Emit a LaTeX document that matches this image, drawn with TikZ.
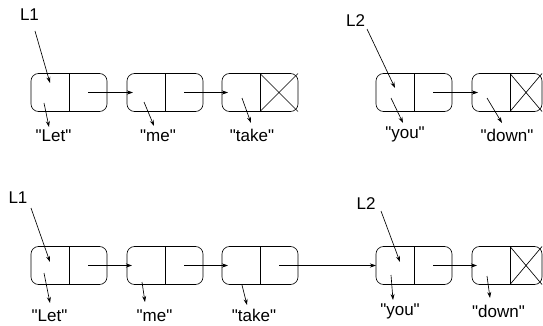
\documentclass[tikz,border=0pt]{standalone}
\usepackage{fontspec}
\setmainfont{Liberation Sans}[Ligatures=TeXOff]
\usetikzlibrary{arrows.meta}
\begin{document}
\begin{tikzpicture}[x=1pt,y=-1pt,line width=0.65pt,
  cell/.style={draw, rounded corners=7.5pt, minimum width=76pt, minimum height=38pt,
               inner sep=0pt, outer sep=0pt},
  endcell/.style={cell, minimum width=70pt},
  lbl/.style={anchor=base, inner sep=0pt, font=\fontsize{17}{20}\selectfont},
  ptr/.style={-{Stealth[length=6pt,width=4pt]}}]
\useasboundingbox (0,0) rectangle (543,326);

% ---------- first state: two separate lists ----------
\node[cell] (a1) at (69,92.5) {};
\node[cell] (a2) at (165,92.5) {};
\node[cell] (a3) at (260,92.5) {};
\node[cell] (a4) at (414,92.5) {};
\node[endcell] (a5) at (507,92.5) {};
\foreach \c in {a1,a2,a3,a4} \draw (\c.north) -- (\c.south);
\draw ([xshift=3pt]a5.north) -- ([xshift=3pt]a5.south);
% nil cells
\draw (a3.north) -- (a3.south east) (a3.south) -- (a3.north east);
\draw ([xshift=3pt]a5.north) -- (a5.south east) ([xshift=3pt]a5.south) -- (a5.north east);

% next links
\draw[ptr] ([xshift=19pt]a1.center) -- ([xshift=-32pt]a2.center);
\draw[ptr] ([xshift=19pt]a2.center) -- ([xshift=-32pt]a3.center);
\draw[ptr] ([xshift=19pt]a4.center) -- ([xshift=-29pt]a5.center);

% list heads
\node[lbl] (h1) at (29.5,21) {L1};
\node[lbl] (h2) at (355.5,26.5) {L2};
\coordinate (h1s) at (35,31);   \coordinate (h1e) at (50,83);
\coordinate (h2s) at (367,29);  \coordinate (h2e) at (395,88);
\draw[ptr] (h1s) -- (h1e);
\draw[ptr] (h2s) -- (h2e);

% data
\node[lbl] (t1) at (53.5,142) {"Let"};
\node[lbl] (t2) at (158,142) {"me"};
\node[lbl] (t3) at (252,142) {"take"};
\node[lbl] (t4) at (405,138.5) {"you"};
\node[lbl] (t5) at (507,142) {"down"};
\coordinate (d1s) at (44,103);  \coordinate (d1e) at (49,127);
\coordinate (d2s) at (144,102); \coordinate (d2e) at (154,126);
\coordinate (d3s) at (242,98);  \coordinate (d3e) at (251,123);
\coordinate (d4s) at (391,98);  \coordinate (d4e) at (403,123);
\coordinate (d5s) at (487,98);  \coordinate (d5e) at (502,123);
\foreach \i in {1,...,5} \draw[ptr] (d\i s) -- (d\i e);

% ---------- second state: lists joined ----------
\node[cell] (b1) at (69,265.5) {};
\node[cell] (b2) at (165,265.5) {};
\node[cell] (b3) at (260,265.5) {};
\node[cell] (b4) at (414,265.5) {};
\node[endcell] (b5) at (507,265.5) {};
\foreach \c in {b1,b2,b3,b4} \draw (\c.north) -- (\c.south);
\draw ([xshift=3pt]b5.north) -- ([xshift=3pt]b5.south);
\draw ([xshift=3pt]b5.north) -- (b5.south east) ([xshift=3pt]b5.south) -- (b5.north east);

\draw[ptr] ([xshift=19pt]b1.center) -- ([xshift=-33pt]b2.center);
\draw[ptr] ([xshift=19pt]b2.center) -- ([xshift=-32pt]b3.center);
\draw[ptr] ([xshift=19pt]b3.center) -- (b4.west);
\draw[ptr] ([xshift=19pt]b4.center) -- ([xshift=-30pt]b5.center);

\node[lbl] (k1) at (18,203) {L1};
\node[lbl] (k2) at (366,209) {L2};
\coordinate (k1s) at (31,208);  \coordinate (k1e) at (50,262);
\coordinate (k2s) at (381,211); \coordinate (k2e) at (400,262);
\draw[ptr] (k1s) -- (k1e);
\draw[ptr] (k2s) -- (k2e);

\node[lbl] (u1) at (49.5,321) {"Let"};
\node[lbl] (u2) at (154.5,321) {"me"};
\node[lbl] (u3) at (254,321) {"take"};
\node[lbl] (u4) at (400,315) {"you"};
\node[lbl] (u5) at (498.5,317.5) {"down"};
\coordinate (e1s) at (44,273);  \coordinate (e1e) at (50,303);
\coordinate (e2s) at (142,282); \coordinate (e2e) at (145,302);
\coordinate (e3s) at (242,285); \coordinate (e3e) at (247,305);
\coordinate (e4s) at (391,275); \coordinate (e4e) at (393,300);
\coordinate (e5s) at (487,276); \coordinate (e5e) at (490,298);
\foreach \i in {1,...,5} \draw[ptr] (e\i s) -- (e\i e);
\end{tikzpicture}
\end{document}
